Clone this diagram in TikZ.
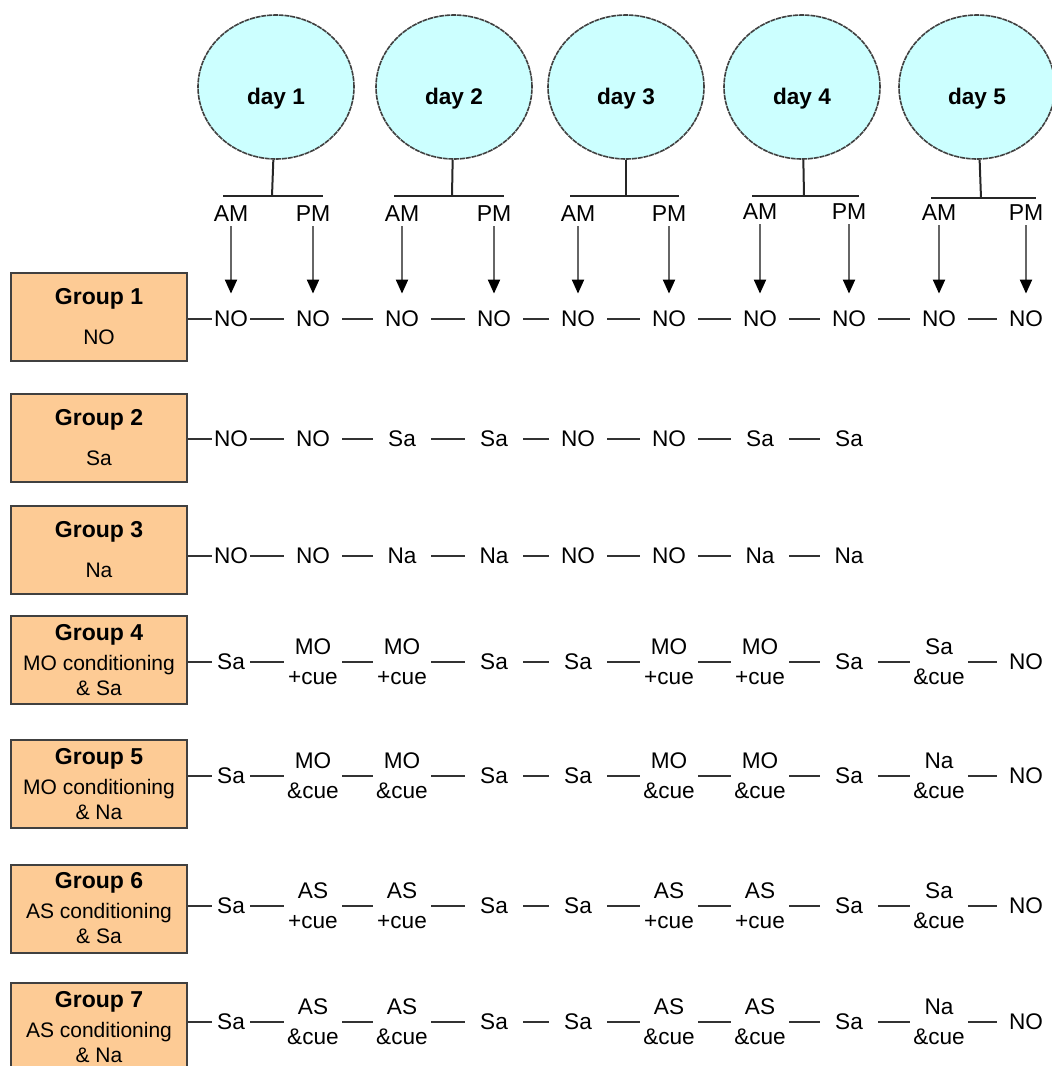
\documentclass[tikz,border=0pt]{standalone}
\usepackage{fontspec}
\setmainfont{Liberation Sans}
\usetikzlibrary{arrows.meta, shapes.geometric}
\definecolor{peach}{HTML}{FDCB95}
\definecolor{sky}{HTML}{CCFFFF}
\newcommand{\grouptitle}[1]{{\fontsize{11.5}{12.5}\selectfont\bfseries #1}}

\begin{document}
\begin{tikzpicture}[x=0.5pt, y=-0.5pt,
			day/.style={ellipse, draw=black!75, dash pattern=on 2.5pt off 0.4pt,
				line width=0.8pt, fill=sky, inner sep=0pt, minimum width=78pt,
				minimum height=72pt, text height=17pt, text depth=0pt,
				font=\fontsize{11.3}{13}\selectfont\bfseries},
			half/.style={inner sep=0pt, font=\fontsize{11.5}{13}\selectfont},
			group/.style={draw=black!75, line width=1pt, fill=peach, minimum width=88pt,
				minimum height=44pt, align=center, font=\fontsize{10.5}{12.5}\selectfont},
			item/.style={inner sep=0pt, minimum width=29pt, align=center,
				font=\fontsize{11.3}{15}\selectfont},
			lead/.style={item, minimum width=19pt},
			stalk/.style={draw=black!85, line width=1pt},
			link/.style={draw=black!80, line width=1pt},
			feed/.style={draw=black!60, line width=1pt, shorten <=2pt, shorten >=8.5pt,
				-{Triangle[width=6pt, length=7pt, color=black]}}]
			\useasboundingbox (0, 0) rectangle (1052, 1066);

			% days
			\node[day] (day1) at (276, 87) {day 1};
			\node[day] (day2) at (454, 87) {day 2};
			\node[day] (day3) at (626, 87) {day 3};
			\node[day] (day4) at (802, 87) {day 4};
			\node[day] (day5) at (977, 87) {day 5};

			\node[half] (am1) at (231, 214) {AM};
			\node[half] (pm1) at (313, 214) {PM};
			\node[half] (am2) at (402, 214) {AM};
			\node[half] (pm2) at (494, 214) {PM};
			\node[half] (am3) at (578, 214) {AM};
			\node[half] (pm3) at (669, 214) {PM};
			\node[half] (am4) at (760, 212) {AM};
			\node[half] (pm4) at (849, 212) {PM};
			\node[half] (am5) at (939, 213) {AM};
			\node[half] (pm5) at (1026, 213) {PM};

			\coordinate (t1) at (272, 196);
			\coordinate (t2) at (452, 196);
			\coordinate (t3) at (626, 196);
			\coordinate (t4) at (804, 196);
			\coordinate (t5) at (981, 198);

			\draw[stalk] (day1) -- (t1);
			\draw[stalk] (day2) -- (t2);
			\draw[stalk] (day3) -- (t3);
			\draw[stalk] (day4) -- (t4);
			\draw[stalk] (day5) -- (t5);
			\draw[stalk, shorten <=-4pt, shorten >=-5pt] (am1 |- t1) -- (pm1 |- t1);
			\draw[stalk, shorten <=-4pt, shorten >=-5pt] (am2 |- t2) -- (pm2 |- t2);
			\draw[stalk, shorten <=-4pt, shorten >=-5pt] (am3 |- t3) -- (pm3 |- t3);
			\draw[stalk, shorten <=-4pt, shorten >=-5pt] (am4 |- t4) -- (pm4 |- t4);
			\draw[stalk, shorten <=-4pt, shorten >=-5pt] (am5 |- t5) -- (pm5 |- t5);

			% groups
			\node[group] (g1) at (99, 317) {\grouptitle{Group 1}\\[7.5pt] NO};
			\node[group] (g2) at (99, 438) {\grouptitle{Group 2}\\[7.5pt] Sa};
			\node[group] (g3) at (99, 549.5) {\grouptitle{Group 3}\\[7.5pt] Na};
			\node[group] (g4) at (99, 660) {\grouptitle{Group 4}\\[2.5pt] MO conditioning\\ \& Sa};
			\node[group] (g5) at (99, 784) {\grouptitle{Group 5}\\[2.5pt] MO conditioning\\ \& Na};
			\node[group] (g6) at (99, 908.5) {\grouptitle{Group 6}\\[2.5pt] AS conditioning\\ \& Sa};
			\node[group] (g7) at (99, 1027) {\grouptitle{Group 7}\\[2.5pt] AS conditioning\\ \& Na};

			% row 1
			\node[lead] (r1c1) at (231, 319) {NO};
			\node[item] (r1c2) at (313, 319) {NO};
			\node[item] (r1c3) at (402, 319) {NO};
			\node[item] (r1c4) at (494, 319) {NO};
			\node[item] (r1c5) at (578, 319) {NO};
			\node[item] (r1c6) at (669, 319) {NO};
			\node[item] (r1c7) at (760, 319) {NO};
			\node[item] (r1c8) at (849, 319) {NO};
			\node[item] (r1c9) at (939, 319) {NO};
			\node[item] (r1c10) at (1026, 319) {NO};

			% row 2
			\node[lead] (r2c1) at (231, 439) {NO};
			\node[item] (r2c2) at (313, 439) {NO};
			\node[item] (r2c3) at (402, 439) {Sa};
			\node[item] (r2c4) at (494, 439) {Sa};
			\node[item] (r2c5) at (578, 439) {NO};
			\node[item] (r2c6) at (669, 439) {NO};
			\node[item] (r2c7) at (760, 439) {Sa};
			\node[item] (r2c8) at (849, 439) {Sa};

			% row 3
			\node[lead] (r3c1) at (231, 556) {NO};
			\node[item] (r3c2) at (313, 556) {NO};
			\node[item] (r3c3) at (402, 556) {Na};
			\node[item] (r3c4) at (494, 556) {Na};
			\node[item] (r3c5) at (578, 556) {NO};
			\node[item] (r3c6) at (669, 556) {NO};
			\node[item] (r3c7) at (760, 556) {Na};
			\node[item] (r3c8) at (849, 556) {Na};

			% row 4
			\node[lead] (r4c1) at (231, 662) {Sa};
			\node[item] (r4c2) at (313, 662) {MO\\+cue};
			\node[item] (r4c3) at (402, 662) {MO\\+cue};
			\node[item] (r4c4) at (494, 662) {Sa};
			\node[item] (r4c5) at (578, 662) {Sa};
			\node[item] (r4c6) at (669, 662) {MO\\+cue};
			\node[item] (r4c7) at (760, 662) {MO\\+cue};
			\node[item] (r4c8) at (849, 662) {Sa};
			\node[item] (r4c9) at (939, 662) {Sa\\\&cue};
			\node[item] (r4c10) at (1026, 662) {NO};

			% row 5
			\node[lead] (r5c1) at (231, 776) {Sa};
			\node[item] (r5c2) at (313, 776) {MO\\\&cue};
			\node[item] (r5c3) at (402, 776) {MO\\\&cue};
			\node[item] (r5c4) at (494, 776) {Sa};
			\node[item] (r5c5) at (578, 776) {Sa};
			\node[item] (r5c6) at (669, 776) {MO\\\&cue};
			\node[item] (r5c7) at (760, 776) {MO\\\&cue};
			\node[item] (r5c8) at (849, 776) {Sa};
			\node[item] (r5c9) at (939, 776) {Na\\\&cue};
			\node[item] (r5c10) at (1026, 776) {NO};

			% row 6
			\node[lead] (r6c1) at (231, 906) {Sa};
			\node[item] (r6c2) at (313, 906) {AS\\+cue};
			\node[item] (r6c3) at (402, 906) {AS\\+cue};
			\node[item] (r6c4) at (494, 906) {Sa};
			\node[item] (r6c5) at (578, 906) {Sa};
			\node[item] (r6c6) at (669, 906) {AS\\+cue};
			\node[item] (r6c7) at (760, 906) {AS\\+cue};
			\node[item] (r6c8) at (849, 906) {Sa};
			\node[item] (r6c9) at (939, 906) {Sa\\\&cue};
			\node[item] (r6c10) at (1026, 906) {NO};

			% row 7
			\node[lead] (r7c1) at (231, 1022) {Sa};
			\node[item] (r7c2) at (313, 1022) {AS\\\&cue};
			\node[item] (r7c3) at (402, 1022) {AS\\\&cue};
			\node[item] (r7c4) at (494, 1022) {Sa};
			\node[item] (r7c5) at (578, 1022) {Sa};
			\node[item] (r7c6) at (669, 1022) {AS\\\&cue};
			\node[item] (r7c7) at (760, 1022) {AS\\\&cue};
			\node[item] (r7c8) at (849, 1022) {Sa};
			\node[item] (r7c9) at (939, 1022) {Na\\\&cue};
			\node[item] (r7c10) at (1026, 1022) {NO};

			% arrows
			\path[feed] (am1) edge (r1c1);
			\path[feed] (pm1) edge (r1c2);
			\path[feed] (am2) edge (r1c3);
			\path[feed] (pm2) edge (r1c4);
			\path[feed] (am3) edge (r1c5);
			\path[feed] (pm3) edge (r1c6);
			\path[feed] (am4) edge (r1c7);
			\path[feed] (pm4) edge (r1c8);
			\path[feed] (am5) edge (r1c9);
			\path[feed] (pm5) edge (r1c10);

			% links
			\path[link] (g1.east |- r1c1) edge (r1c1);
			\path[link] (r1c1) edge (r1c2);
			\path[link] (r1c2) edge (r1c3);
			\path[link] (r1c3) edge (r1c4);
			\path[link] (r1c4) edge (r1c5);
			\path[link] (r1c5) edge (r1c6);
			\path[link] (r1c6) edge (r1c7);
			\path[link] (r1c7) edge (r1c8);
			\path[link] (r1c8) edge (r1c9);
			\path[link] (r1c9) edge (r1c10);

			\path[link] (g2.east |- r2c1) edge (r2c1);
			\path[link] (r2c1) edge (r2c2);
			\path[link] (r2c2) edge (r2c3);
			\path[link] (r2c3) edge (r2c4);
			\path[link] (r2c4) edge (r2c5);
			\path[link] (r2c5) edge (r2c6);
			\path[link] (r2c6) edge (r2c7);
			\path[link] (r2c7) edge (r2c8);

			\path[link] (g3.east |- r3c1) edge (r3c1);
			\path[link] (r3c1) edge (r3c2);
			\path[link] (r3c2) edge (r3c3);
			\path[link] (r3c3) edge (r3c4);
			\path[link] (r3c4) edge (r3c5);
			\path[link] (r3c5) edge (r3c6);
			\path[link] (r3c6) edge (r3c7);
			\path[link] (r3c7) edge (r3c8);

			\path[link] (g4.east |- r4c1) edge (r4c1);
			\path[link] (r4c1) edge (r4c2);
			\path[link] (r4c2) edge (r4c3);
			\path[link] (r4c3) edge (r4c4);
			\path[link] (r4c4) edge (r4c5);
			\path[link] (r4c5) edge (r4c6);
			\path[link] (r4c6) edge (r4c7);
			\path[link] (r4c7) edge (r4c8);
			\path[link] (r4c8) edge (r4c9);
			\path[link] (r4c9) edge (r4c10);

			\path[link] (g5.east |- r5c1) edge (r5c1);
			\path[link] (r5c1) edge (r5c2);
			\path[link] (r5c2) edge (r5c3);
			\path[link] (r5c3) edge (r5c4);
			\path[link] (r5c4) edge (r5c5);
			\path[link] (r5c5) edge (r5c6);
			\path[link] (r5c6) edge (r5c7);
			\path[link] (r5c7) edge (r5c8);
			\path[link] (r5c8) edge (r5c9);
			\path[link] (r5c9) edge (r5c10);

			\path[link] (g6.east |- r6c1) edge (r6c1);
			\path[link] (r6c1) edge (r6c2);
			\path[link] (r6c2) edge (r6c3);
			\path[link] (r6c3) edge (r6c4);
			\path[link] (r6c4) edge (r6c5);
			\path[link] (r6c5) edge (r6c6);
			\path[link] (r6c6) edge (r6c7);
			\path[link] (r6c7) edge (r6c8);
			\path[link] (r6c8) edge (r6c9);
			\path[link] (r6c9) edge (r6c10);

			\path[link] (g7.east |- r7c1) edge (r7c1);
			\path[link] (r7c1) edge (r7c2);
			\path[link] (r7c2) edge (r7c3);
			\path[link] (r7c3) edge (r7c4);
			\path[link] (r7c4) edge (r7c5);
			\path[link] (r7c5) edge (r7c6);
			\path[link] (r7c6) edge (r7c7);
			\path[link] (r7c7) edge (r7c8);
			\path[link] (r7c8) edge (r7c9);
			\path[link] (r7c9) edge (r7c10);
\end{tikzpicture}
\end{document}
